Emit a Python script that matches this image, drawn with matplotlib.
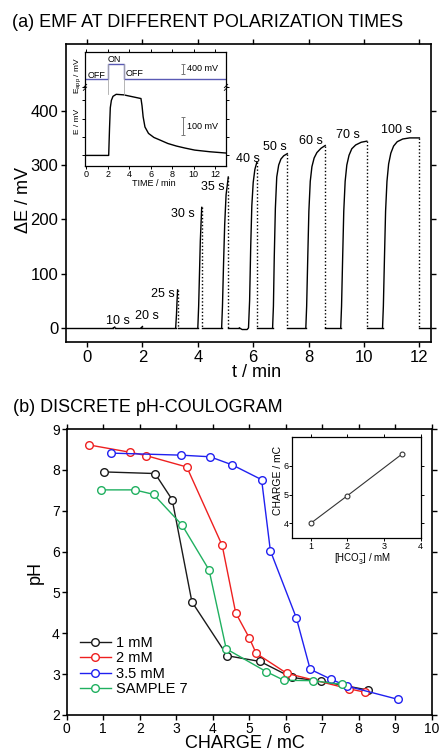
import matplotlib
matplotlib.use('Agg')
import matplotlib.pyplot as plt

plt.rcParams['font.family'] = ['Liberation Sans', 'DejaVu Sans']
plt.rcParams['mathtext.fontset'] = 'custom'
plt.rcParams['mathtext.rm'] = 'Liberation Sans'
plt.rcParams['mathtext.it'] = 'Liberation Sans'

# (a) EMF pulses: rising part of each trace, minutes / mV
t10 = [0.95, 1.0]
e10 = [0, 1.5]
t20 = [1.95, 2.0]
e20 = [0, 2.5]
t25 = [3.2, 3.23, 3.25, 3.27]
e25 = [0, 25, 50, 70]
t30 = [4.0, 4.03, 4.06, 4.09, 4.14]
e30 = [0, 40, 100, 160, 222]
t35 = [4.86, 4.89, 4.93, 4.97, 5.02, 5.1]
e35 = [0, 40, 120, 190, 245, 278]
t40 = [5.5, 5.6, 5.78, 5.83, 5.87, 5.91, 5.95, 6.0, 6.06, 6.13]
e40 = [0, -3, -3, 0, 50, 150, 225, 268, 292, 305]
t50 = [6.7, 6.73, 6.76, 6.8, 6.85, 6.92, 7.0, 7.1, 7.23]
e50 = [0, 40, 130, 220, 278, 300, 311, 317, 321]
t60 = [7.9, 7.93, 7.97, 8.01, 8.06, 8.12, 8.2, 8.3, 8.45, 8.6]
e60 = [0, 40, 130, 215, 270, 297, 313, 323, 331, 336]
t70 = [9.16, 9.19, 9.23, 9.27, 9.32, 9.38, 9.46, 9.56, 9.7, 9.9, 10.1]
e70 = [0, 40, 130, 215, 270, 300, 318, 330, 337, 342, 344]
t100 = [10.67, 10.7, 10.74, 10.78, 10.83, 10.89, 10.97, 11.07, 11.2, 11.4, 11.65, 12.0]
e100 = [0, 40, 130, 215, 270, 302, 322, 335, 343, 348, 350, 350]

pulse_t = [t10, t20, t25, t30, t35, t40, t50, t60, t70, t100]
pulse_e = [e10, e20, e25, e30, e35, e40, e50, e60, e70, e100]
pulse_labels = ['10 s', '20 s', '25 s', '30 s', '35 s', '40 s', '50 s', '60 s', '70 s', '100 s']
label_t = [1.12, 2.17, 2.74, 3.47, 4.53, 5.81, 6.79, 8.08, 9.43, 11.17]
label_e = [12, 22, 63, 210, 260, 312, 334, 345, 355, 364]

# inset (a): applied potential and response
t_app = [0, 2.07, 2.07, 3.5, 3.5, 13]
e_app = [0, 0, 620, 620, 0, 0]
t_resp = [0, 2.1, 2.18, 2.25, 2.35, 2.5, 2.8, 3.5, 4.3, 5.1, 5.2, 5.3, 5.47,
          5.8, 6.3, 6.86, 7.6, 8.4, 9.2, 10.1, 11.5, 13]
e_resp = [0, 0, 150, 260, 300, 322, 333, 330, 320, 310, 270, 211, 155,
          120, 98, 84, 65, 51, 40, 29, 20, 13]

# (b) pH coulograms
q_1mM = [1.01, 2.42, 2.89, 3.43, 4.40, 5.30, 6.16, 6.96, 8.26]
ph_1mM = [7.95, 7.91, 7.27, 4.77, 3.45, 3.31, 2.92, 2.83, 2.61]
q_2mM = [0.61, 1.74, 2.17, 3.29, 4.26, 4.63, 5.00, 5.19, 6.03, 7.74, 8.16]
ph_2mM = [8.61, 8.43, 8.35, 8.07, 6.15, 4.50, 3.89, 3.51, 3.02, 2.64, 2.56]
q_35mM = [1.21, 3.13, 3.93, 4.54, 5.34, 5.58, 6.29, 6.67, 7.23, 7.67, 9.09]
ph_35mM = [8.41, 8.36, 8.32, 8.12, 7.76, 6.02, 4.38, 3.12, 2.88, 2.71, 2.38]
q_s7 = [0.93, 1.86, 2.38, 3.16, 3.90, 4.37, 5.47, 5.95, 6.74, 7.53]
ph_s7 = [7.51, 7.51, 7.40, 6.65, 5.55, 3.62, 3.06, 2.85, 2.84, 2.75]

# inset (b): charge vs bicarbonate
hco3 = [1, 2, 3.5]
charge = [4.0, 4.96, 6.42]

W, H = 440, 753
fig = plt.figure(figsize=(W / 100, H / 100), dpi=100)


def fx(px):
    return px / W


def fy(py):
    return 1 - py / H


# ---------------- panel (a) ----------------
ax1 = fig.add_axes([fx(66), fy(342), fx(431) - fx(66), fy(44) - fy(342)])
# baseline pieces between pulses
prev_end = -0.76
for tt, ee in zip(pulse_t, pulse_e):
    ax1.plot([prev_end, tt[0]], [0, 0], color='k', lw=1.0)
    ax1.plot(tt, ee, color='k', lw=1.0)
    ax1.plot([tt[-1], tt[-1]], [ee[-1], 0], color='k', lw=1.0, ls=(0, (1, 1.5)))
    prev_end = tt[-1]
ax1.plot([prev_end, 12.42], [0, 0], color='k', lw=1.0)
for lab, x, y in zip(pulse_labels, label_t, label_e):
    ax1.text(x, y, lab, ha='center', va='center', fontsize=9)

ax1.set_xlim(-0.76, 12.42)
ax1.set_ylim(-26, 523)
ax1.set_xticks(range(0, 13, 2))
ax1.set_yticks(range(0, 401, 100))
ax1.tick_params(direction='out', length=3.5, width=1, labelsize=12,
                top=True, right=True, pad=2)
for s in ax1.spines.values():
    s.set_linewidth(1.2)

fig.text(fx(12), fy(27), '(a) EMF AT DIFFERENT POLARIZATION TIMES', fontsize=13,
         ha='left', va='baseline')
fig.text(fx(23), fy(200), 'ΔE / mV', fontsize=13, rotation=90, ha='center', va='center')
fig.text(fx(257), fy(364), 't / min', fontsize=13, ha='center', va='top')

# inset (a)
axi = fig.add_axes([fx(85), fy(165.7), fx(226) - fx(85), fy(52.3) - fy(165.7)])
app_offset = 415
app_scale = 0.132
axi.plot(t_app, [app_offset + v * app_scale for v in e_app], color='#5a5ab4', lw=1.0)
axi.plot(t_resp, e_resp, color='k', lw=1.0)
axi.plot([2.07, 2.07], [333, 496], color='#aaaaaa', lw=0.6)
axi.plot([3.5, 3.5], [330, 496], color='#aaaaaa', lw=0.6)
# scale bars
axi.errorbar([9.0], [470], yerr=[[26], [26]], color='#777777', capsize=1.5, lw=0.7, capthick=0.7)
axi.errorbar([9.0], [161], yerr=[[50], [50]], color='#777777', capsize=1.5, lw=0.7, capthick=0.7)
axi.text(9.35, 475, '400 mV', fontsize=6.5, va='center', ha='left')
axi.text(9.35, 156, '100 mV', fontsize=6.5, va='center', ha='left')
axi.text(0.12, 438, 'OFF', fontsize=6.5, va='center', ha='left')
axi.text(2.6, 521, 'ON', fontsize=6.5, va='center', ha='center')
axi.text(3.7, 444, 'OFF', fontsize=6.5, va='center', ha='left')
# axis break marks
yb = (371 + 56) / 618
for xs in (0, 1):
    for dy in (-0.012, 0.012):
        axi.plot([xs - 0.012, xs + 0.012], [yb + dy - 0.015, yb + dy + 0.015],
                 transform=axi.transAxes, color='k', lw=0.6, clip_on=False)
axi.set_xlim(-0.1, 13)
axi.set_ylim(-56, 562)
axi.set_xticks(range(0, 13, 2))
axi.set_yticks([0, 100, 200, 300, 371])
axi.set_yticklabels([])
axi.tick_params(direction='out', length=2, width=0.7, labelsize=6.5, pad=1)
axi.tick_params(axis='x', top=True)
axi.tick_params(axis='y', right=True)
for s in axi.spines.values():
    s.set_linewidth(0.9)
fig.text(fx(153.7), fy(183.5), 'TIME / min', fontsize=6.5, ha='center', va='center')
fig.text(fx(77.7), fy(75), 'E$_{app}$ / mV', fontsize=6, rotation=90, ha='center', va='center')
fig.text(fx(77.7), fy(121), 'E / mV', fontsize=6, rotation=90, ha='center', va='center')

# ---------------- panel (b) ----------------
ax2 = fig.add_axes([fx(66.7), fy(715), fx(431.7) - fx(66.7), fy(429) - fy(715)])
series = [(q_1mM, ph_1mM, '#1a1a1a', '1 mM'),
          (q_2mM, ph_2mM, '#ee2020', '2 mM'),
          (q_35mM, ph_35mM, '#2020f0', '3.5 mM'),
          (q_s7, ph_s7, '#20b060', 'SAMPLE 7')]
for q, ph, c, lab in series:
    ax2.plot(q, ph, '-o', color=c, lw=1.0, ms=5.5, mfc='white', mec=c, mew=1.0, label=lab)
ax2.set_xlim(0, 10)
ax2.set_ylim(2, 9)
ax2.set_xticks(range(0, 11))
ax2.set_yticks(range(2, 10))
ax2.tick_params(direction='out', length=3.5, width=1, labelsize=10,
                top=True, right=True, pad=1.5)
for s in ax2.spines.values():
    s.set_linewidth(1.2)
ax2.legend(loc='upper left', bbox_to_anchor=(fx(80), fy(636)), bbox_transform=fig.transFigure,
           frameon=False, fontsize=10.5, handlelength=2.1, handletextpad=0.4,
           labelspacing=0.1, borderpad=0, borderaxespad=0)

fig.text(fx(13), fy(411.7), '(b) DISCRETE pH-COULOGRAM', fontsize=13, ha='left', va='baseline')
fig.text(fx(35), fy(572), 'pH', fontsize=13, rotation=90, ha='center', va='center')
fig.text(fx(244.7), fy(744), 'CHARGE / mC', fontsize=13, ha='center', va='center')

# inset (b)
axb = fig.add_axes([fx(292.3), fy(537.7), fx(420.5) - fx(292.3), fy(437.3) - fy(537.7)])
axb.plot(hco3, charge, '-o', color='#333333', lw=0.8, ms=3.5, mfc='white', mec='#333333', mew=0.8)
axb.set_xlim(0.5, 4)
axb.set_ylim(3.5, 7.0)
axb.set_xticks([1, 2, 3, 4])
axb.set_yticks([4, 5, 6])
axb.tick_params(direction='out', length=2, width=0.7, labelsize=6.5, pad=0.8,
                top=True, right=True)
for s in axb.spines.values():
    s.set_linewidth(0.9)
fig.text(fx(362), fy(559), '[HCO$_3^{-}$] / mM', fontsize=7, ha='center', va='center')
fig.text(fx(278.3), fy(480), 'CHARGE / mC', fontsize=7.5, rotation=90, ha='center', va='center')

fig.savefig('out.png', dpi=100)
